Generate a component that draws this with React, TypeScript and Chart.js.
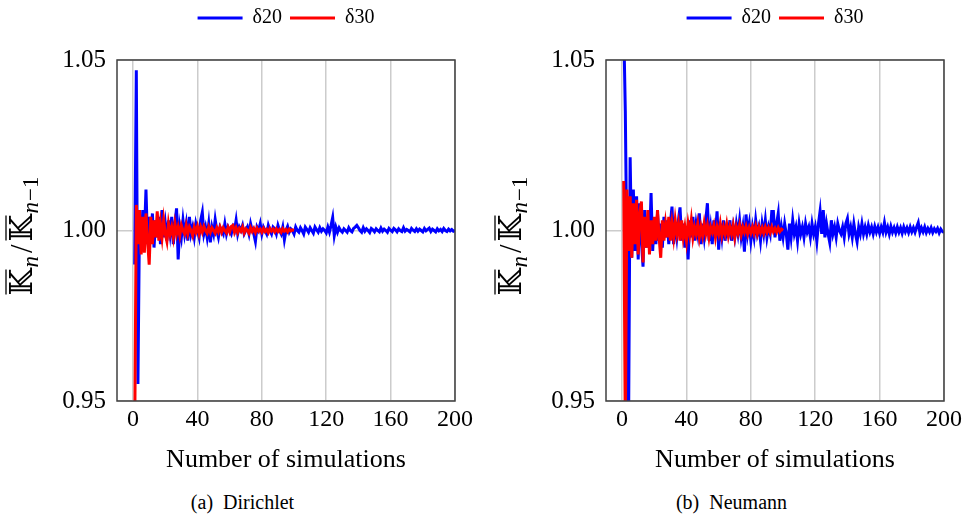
import { useEffect, useRef } from 'react';
import { Chart, registerables, layouts } from 'chart.js';

Chart.register(...registerables);

const X_TICKS = [0, 40, 80, 120, 160, 200];
const Y_TICKS = [0.95, 1.0, 1.05];
const SERIES_LABELS = ['δ20', 'δ30'];
const X_TITLE = 'Number of simulations';
const CAPTIONS = ['(a)  Dirichlet', '(b)  Neumann'];

const dirichletD20 = [
  0.99, 1.047, 0.955, 1.004, 0.994, 1.006, 0.998, 1.012, 0.996, 1.004,
  0.997, 1.005, 0.995, 1.003, 0.998, 1.004, 0.996, 1.006, 0.998, 1.002,
  0.997, 1.003, 0.999, 1.004, 0.996, 1.002, 1.0065, 0.9915, 1.001, 0.998,
  1.003, 0.999, 1.002, 0.997, 1.004, 0.999, 1.001, 0.998, 1.002, 1.0,
  0.998, 1.003, 1.0053, 0.999, 1.001, 0.998, 1.002, 0.9965, 1.001, 0.999,
  1.0032, 1.0, 0.998, 1.001, 1.0, 0.999, 1.002, 0.999, 1.001, 1.0,
  0.999, 1.001, 1.0, 1.003, 0.999, 1.001, 1.0, 1.0015, 0.999, 1.0,
  1.001, 0.999, 1.002, 1.0, 0.999, 0.9968, 1.001, 1.0, 1.002, 0.999,
  1.001, 1.0, 0.999, 1.0015, 1.0, 0.999, 1.001, 1.0005, 0.999, 1.0015,
  1.0, 0.999, 1.001, 0.9973, 1.0, 1.0012, 0.9995, 1.0005, 1.0, 0.999,
  1.001, 1.0, 0.9995, 1.0008, 1.0, 0.999, 1.001, 1.0003, 0.9995, 1.0008,
  1.0, 0.9992, 1.001, 1.0002, 0.9995, 1.0008, 0.9998, 1.0005, 1.0, 0.9993,
  1.001, 0.9995, 1.0015, 1.0038, 0.9985, 1.001, 0.9995, 1.0008, 1.0, 0.9995,
  1.0005, 1.0, 0.9995, 1.0008, 1.0, 0.9996, 1.0006, 1.001, 1.0015, 1.0008,
  1.0, 0.9995, 1.0008, 0.9998, 1.0005, 1.0, 0.9994, 1.0006, 1.0002, 0.9996,
  1.0005, 1.0, 0.9996, 1.0007, 0.9998, 1.0004, 1.0, 0.9995, 1.0006, 1.0001,
  0.9997, 1.0006, 1.0002, 0.9996, 1.0005, 1.0, 0.9997, 1.0008, 0.9998, 1.0003,
  1.0, 0.9996, 1.0006, 1.0001, 0.9997, 1.0005, 0.9998, 1.0004, 1.0, 0.9996,
  1.0006, 0.9999, 1.0003, 1.0007, 0.9997, 1.0004, 1.0, 0.9996, 1.0005, 0.9999,
  1.0003, 0.9997, 1.0006, 1.0, 0.9997, 1.0004, 0.9999, 1.0003, 0.9998, 1.0,
];

const dirichletD30 = [
  0.94, 1.0075, 0.996, 1.006, 0.993, 1.004, 0.9935, 1.005, 0.997, 0.99,
  1.004, 0.996, 1.003, 0.998, 1.0056, 0.997, 1.002, 0.998, 1.003, 0.999,
  0.9968, 1.002, 0.999, 1.001, 0.998, 1.002, 0.999, 1.001, 0.9985, 1.0015,
  1.0, 0.999, 1.0015, 0.999, 1.001, 1.0, 0.9985, 1.001, 0.9995, 1.0012,
  0.999, 1.001, 0.9995, 1.0012, 1.0, 0.9992, 1.001, 0.9995, 1.0008, 1.0,
  0.9992, 1.0008, 0.9996, 1.001, 0.9995, 1.0008, 1.0, 0.9993, 1.0009, 0.9996,
  1.0012, 1.0015, 0.9995, 1.0008, 0.9994, 1.0006, 0.9998, 1.001, 0.9993, 1.0005,
  1.0, 0.9992, 1.0008, 0.9997, 1.0006, 0.9994, 1.0007, 0.9998, 1.0004, 0.9995,
  1.0006, 0.9997, 1.0003, 0.9994, 1.0006, 0.9998, 1.0004, 0.9996, 1.0005, 0.9997,
  1.0003, 0.9995, 1.0005, 0.9998, 1.0003, 0.9996, 1.0004, 0.9999, 1.0002, 1.0,
];

const neumannD20 = [
  1.06, 1.035, 0.99, 0.94, 1.0215, 0.992, 1.012, 0.994, 1.01, 0.9915,
  1.008, 0.997, 0.9894, 1.006, 0.995, 1.004, 0.996, 1.011, 0.994, 1.003,
  0.996, 1.005, 0.997, 1.002, 0.995, 1.004, 0.998, 1.003, 0.996, 1.002,
  1.007, 0.996, 1.002, 0.998, 1.003, 1.0068, 0.997, 1.002, 0.995, 1.001,
  0.9915, 1.003, 0.998, 1.004, 0.997, 1.002, 0.999, 1.005, 0.996, 1.002,
  0.998, 1.003, 1.008, 0.997, 1.001, 0.996, 1.003, 0.999, 1.0056, 0.9944,
  1.002, 0.998, 1.003, 0.997, 1.001, 0.999, 1.003, 0.997, 1.001, 0.998,
  1.002, 0.999, 1.003, 0.998, 1.001, 0.9938, 1.0047, 0.999, 1.002, 0.997,
  1.001, 0.998, 1.003, 0.999, 1.001, 0.997, 1.002, 0.999, 1.003, 0.998,
  1.001, 0.999, 1.0056, 1.0056, 0.998, 1.002, 1.005, 0.997, 1.001, 0.998,
  1.002, 0.999, 0.9944, 1.002, 0.998, 1.003, 0.999, 1.001, 0.997, 1.002,
  0.999, 1.001, 0.998, 1.002, 0.9995, 1.001, 0.998, 1.002, 0.999, 1.001,
  0.9968, 1.002, 1.0056, 0.999, 1.006, 0.998, 1.002, 0.999, 0.9965, 1.003,
  0.999, 1.001, 0.998, 1.002, 1.0, 0.999, 1.001, 0.998, 1.002, 1.0035,
  0.999, 1.001, 0.998, 1.002, 0.999, 0.9967, 1.001, 0.999, 1.002, 0.999,
  1.001, 0.999, 1.0015, 0.9995, 1.001, 0.999, 1.0012, 0.9995, 1.001, 0.9992,
  1.001, 0.9995, 1.0023, 0.9995, 1.001, 0.999, 1.0012, 0.9995, 1.0008, 0.9993,
  1.001, 0.9995, 1.0008, 0.9992, 1.001, 0.9996, 1.0008, 0.9994, 1.001, 0.9996,
  1.0008, 0.9995, 1.001, 1.0023, 0.9994, 1.0008, 0.9996, 1.001, 0.9994, 1.0006,
  0.9996, 1.0008, 0.9994, 1.0005, 0.9997, 1.0006, 0.9993, 1.0004, 0.9997, 0.9994,
];

const neumannD30 = [
  1.0145, 0.94, 1.012, 0.994, 1.01, 0.992, 1.008, 0.996, 1.009, 0.993,
  1.005, 1.0085, 0.9906, 1.004, 0.995, 1.006, 0.993, 1.003, 0.996, 1.004,
  0.997, 1.006, 0.998, 0.992, 1.003, 0.997, 1.002, 0.998, 1.004, 0.997,
  1.002, 0.998, 1.003, 0.999, 1.002, 0.997, 1.003, 0.998, 1.001, 0.997,
  1.002, 0.999, 1.003, 0.998, 1.001, 0.999, 1.002, 0.998, 1.001, 0.9985,
  1.002, 0.999, 1.0015, 0.998, 1.001, 0.9995, 1.0015, 0.998, 1.001, 0.999,
  1.002, 0.9985, 1.001, 0.999, 1.0018, 0.9985, 1.001, 0.999, 1.0015, 0.998,
  1.001, 0.9992, 1.0015, 0.9988, 1.001, 0.9995, 1.0012, 0.999, 1.0008, 0.9993,
  1.001, 0.9992, 1.0012, 0.999, 1.001, 0.9994, 1.0008, 0.9992, 1.001, 0.9995,
  1.0008, 0.9994, 1.001, 0.9996, 1.0006, 0.9995, 1.0008, 0.9997, 1.0004, 1.0,
];

const SERIF = "'Liberation Serif', 'DejaVu Serif', 'Noto Serif', serif";
const CANVAS_W = 479;
const CANVAS_H = 480;

const toPoints = (arr: number[]) => arr.map((v, i) => ({ x: i + 1, y: v }));

function drawYTitle(ctx: CanvasRenderingContext2D, cx: number, cy: number) {
  const big = `31px 'DejaVu Serif', serif`;
  const slash = `31px ${SERIF}`;
  const subI = `italic 23px ${SERIF}`;
  const sub = `23px ${SERIF}`;
  const parts = [
    { t: '𝕂', f: big, dy: 0, bar: true, gap: 1 },
    { t: 'n', f: subI, dy: 6, bar: false, gap: 3 },
    { t: '/', f: slash, dy: 0, bar: false, gap: 3 },
    { t: '𝕂', f: big, dy: 0, bar: true, gap: 1 },
    { t: 'n', f: subI, dy: 6, bar: false, gap: 1 },
    { t: '−1', f: sub, dy: 6, bar: false, gap: 0 },
  ];
  ctx.save();
  ctx.translate(cx, cy);
  ctx.rotate(-Math.PI / 2);
  ctx.fillStyle = '#000';
  ctx.strokeStyle = '#000';
  ctx.textBaseline = 'alphabetic';
  ctx.textAlign = 'left';
  let total = 0;
  const widths = parts.map((p) => {
    ctx.font = p.f;
    const w = ctx.measureText(p.t).width;
    total += w + p.gap;
    return w;
  });
  let x = -total / 2;
  const base = 10;
  parts.forEach((p, i) => {
    ctx.font = p.f;
    ctx.fillText(p.t, x, base + p.dy);
    if (p.bar) {
      ctx.lineWidth = 1.3;
      ctx.beginPath();
      ctx.moveTo(x + 1, base - 26);
      ctx.lineTo(x + widths[i] - 1, base - 26);
      ctx.stroke();
    }
    x += widths[i] + p.gap;
  });
  ctx.restore();
}

function ChartPanel({ d20, d30 }: { d20: number[]; d30: number[] }) {
  const ref = useRef<HTMLCanvasElement | null>(null);
  useEffect(() => {
    if (!ref.current) return;
    const spacerPlugin = {
      id: 'spacer',
      beforeInit(chart: any) {
        const box: any = {
          options: {},
          position: 'top',
          weight: 10,
          fullSize: true,
          top: 0,
          left: 0,
          right: 0,
          bottom: 0,
          width: 0,
          height: 0,
          isHorizontal() {
            return true;
          },
          update(maxWidth: number) {
            this.width = maxWidth;
            this.height = 22;
          },
          draw() {},
        };
        layouts.addBox(chart, box);
      },
    };
    const framePlugin = {
      id: 'frame',
      afterDraw(chart: any) {
        const { ctx, chartArea } = chart;
        ctx.save();
        ctx.strokeStyle = '#404040';
        ctx.lineWidth = 1.5;
        ctx.strokeRect(chartArea.left, chartArea.top, chartArea.right - chartArea.left, chartArea.bottom - chartArea.top);
        ctx.restore();
        drawYTitle(ctx, 22, 236);
      },
    };
    const chart = new Chart(ref.current, {
      type: 'line',
      data: {
        datasets: [
          {
            label: SERIES_LABELS[0],
            data: toPoints(d20),
            borderColor: '#0000ff',
            backgroundColor: '#0000ff',
            borderWidth: 3,
            pointRadius: 0,
            tension: 0,
            order: 2,
          },
          {
            label: SERIES_LABELS[1],
            data: toPoints(d30),
            borderColor: '#ff0000',
            backgroundColor: '#ff0000',
            borderWidth: 3,
            pointRadius: 0,
            tension: 0,
            order: 1,
          },
        ],
      },
      options: {
        animation: false,
        responsive: false,
        devicePixelRatio: 1,
        layout: { padding: { left: 0, right: 24, top: 0, bottom: 0 } },
        plugins: {
          tooltip: { enabled: false },
          legend: {
            position: 'top',
            fullSize: false,
            labels: {
              boxWidth: 45,
              boxHeight: 3,
              padding: 8,
              color: '#000',
              font: { size: 20, family: SERIF },
              sort: (a: any, b: any) => a.datasetIndex - b.datasetIndex,
              generateLabels: (c: any) =>
                c.data.datasets.map((ds: any, i: number) => ({
                  text: ds.label,
                  fillStyle: ds.borderColor,
                  strokeStyle: ds.borderColor,
                  lineWidth: 0,
                  hidden: false,
                  datasetIndex: i,
                  fontColor: '#000',
                })),
            },
          },
        },
        scales: {
          x: {
            type: 'linear',
            min: -10,
            max: 200,
            afterBuildTicks: (s: any) => {
              s.ticks = X_TICKS.map((v) => ({ value: v }));
            },
            afterFit: (s: any) => {
              s.height = 79;
            },
            ticks: { padding: 4, color: '#000', font: { size: 24, family: SERIF }, maxRotation: 0, autoSkip: false },
            grid: { color: '#cccccc', lineWidth: 1.5, drawTicks: false },
            border: { display: false },
            title: {
              display: true,
              text: X_TITLE,
              color: '#000',
              font: { size: 26, family: SERIF },
              padding: { top: 4, bottom: 4 },
            },
          },
          y: {
            min: 0.95,
            max: 1.05,
            afterBuildTicks: (s: any) => {
              s.ticks = Y_TICKS.map((v) => ({ value: v }));
            },
            afterFit: (s: any) => {
              s.width = 117;
            },
            ticks: {
              padding: 11,
              color: '#000',
              font: { size: 25, family: SERIF },
              callback: (v: any) => Number(v).toFixed(2),
            },
            grid: { color: '#cccccc', lineWidth: 1.5, drawTicks: false },
            border: { display: false },
          },
        },
      },
      plugins: [spacerPlugin, framePlugin],
    } as any);
    return () => chart.destroy();
  }, [d20, d30]);
  return <canvas ref={ref} width={CANVAS_W} height={CANVAS_H} style={{ display: 'block' }} />;
}

export default function App() {
  const captionStyle = (left: number): any => ({
    position: 'absolute',
    left,
    top: 490,
    width: CANVAS_W,
    textAlign: 'center',
    fontFamily: SERIF,
    fontSize: 20,
    lineHeight: '24px',
    color: '#000',
    whiteSpace: 'pre',
  });
  return (
    <div style={{ position: 'absolute', left: 0, top: 0, width: 968, height: 514, background: '#fff', overflow: 'hidden' }}>
      <div style={{ position: 'absolute', left: 0, top: 0 }}>
        <ChartPanel d20={dirichletD20} d30={dirichletD30} />
      </div>
      <div style={{ position: 'absolute', left: 489, top: 0 }}>
        <ChartPanel d20={neumannD20} d30={neumannD30} />
      </div>
      <div style={captionStyle(3)}>{CAPTIONS[0]}</div>
      <div style={captionStyle(492)}>{CAPTIONS[1]}</div>
    </div>
  );
}
